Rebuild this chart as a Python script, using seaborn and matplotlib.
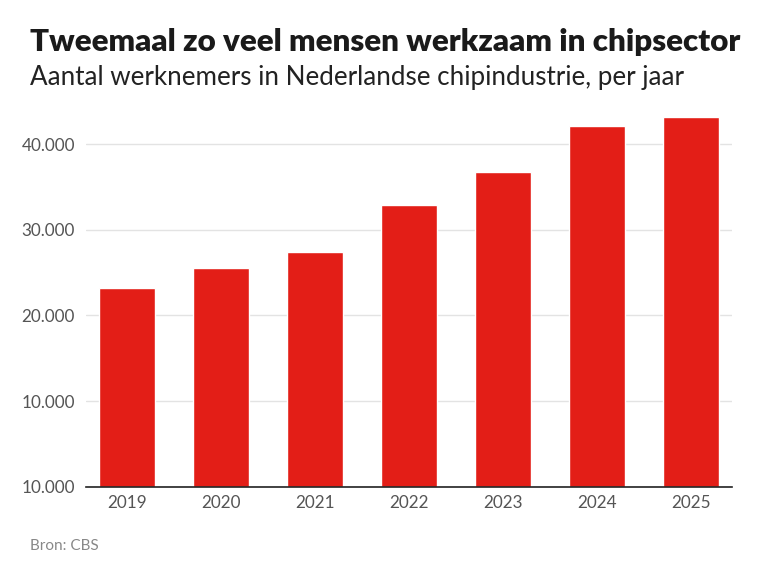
import matplotlib
matplotlib.use("Agg")
import matplotlib.pyplot as plt
import seaborn as sns
import pandas as pd

years = ["2019", "2020", "2021", "2022", "2023", "2024", "2025"]
workers = [23200, 25600, 27400, 32900, 36700, 42100, 43200]
ytick_values = [0, 10000, 20000, 30000, 40000]
ytick_labels = ["10.000", "10.000", "20.000", "30.000", "40.000"]

title = "Tweemaal zo veel mensen werkzaam in chipsector"
subtitle = "Aantal werknemers in Nederlandse chipindustrie, per jaar"
source = "Bron: CBS"

sns.set_theme(style="white")
plt.rcParams["font.family"] = ["Lato", "DejaVu Sans"]

df = pd.DataFrame({"jaar": years, "werknemers": workers})

fig = plt.figure(figsize=(7.68, 5.76), dpi=100)
ax = fig.add_axes([0.112, 0.155, 0.841, 0.669])

sns.barplot(data=df, x="jaar", y="werknemers", color="#e31e17", width=0.595,
            saturation=1, ax=ax, zorder=3)

ax.set_xlim(-0.436, 6.436)
ax.set_ylim(0, 45000)
ax.set_yticks(ytick_values)
ax.set_yticklabels(ytick_labels)
ax.yaxis.grid(True, color="#e3e3e3", linewidth=1, zorder=0)
ax.xaxis.grid(False)
for s in ["top", "right", "left"]:
    ax.spines[s].set_visible(False)
ax.spines["bottom"].set_color("#222222")
ax.spines["bottom"].set_linewidth(1.2)
ax.spines["bottom"].set_zorder(4)
ax.tick_params(axis="both", length=0, labelsize=12.3, labelcolor="#555555")
ax.tick_params(axis="x", pad=6)
ax.tick_params(axis="y", pad=8)
ax.set_xlabel("")
ax.set_ylabel("")

fig.text(0.039, 0.927, title, fontsize=22.5, fontweight="heavy", color="#1a1a1a",
         ha="left", va="center")
fig.text(0.039, 0.866, subtitle, fontsize=18.7, color="#222222",
         ha="left", va="center")
fig.text(0.039, 0.052, source, fontsize=11, color="#888888",
         ha="left", va="center")

fig.savefig("out.png", dpi=100)
